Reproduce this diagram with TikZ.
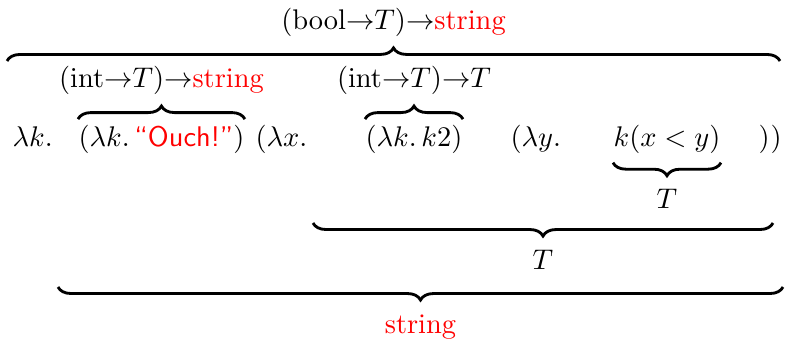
\documentclass[tikz,border=0pt]{standalone}
\usetikzlibrary{decorations.pathreplacing,calc}
\begin{document}
\begin{tikzpicture}[x=0.352pt, y=0.352pt,
    term/.style={anchor=base west, inner sep=0pt},
    brace/.style={decorate, decoration={brace, amplitude=4.6pt}, line width=1pt},
    mbrace/.style={decorate, decoration={brace, mirror, amplitude=4.6pt}, line width=1pt},
    uplab/.style={anchor=base, inner sep=0pt, yshift=11pt},
    lowlab/.style={anchor=base, inner sep=0pt, yshift=-16.3pt}]
    \useasboundingbox (0,0) rectangle (785,-339);

    % Der Term in einer Zeile
    \node[term] (lamk) at (12,-147) {$\lambda k.$};
    \node[term] (ouch) at (78,-147) {$(\lambda k.\,$\textcolor{red}{\textsf{``Ouch!''}}$)$};
    \node[term] (lamx) at (255,-147) {$(\lambda x.$};
    \node[term] (k2) at (365,-147) {$(\lambda k.\,k2)$};
    \node[term] (lamy) at (510,-147) {$(\lambda y.$};
    \node[term] (kxy) at (613,-147) {$k(x<y)$};
    \node[term] (closeY) at (758,-147) {$)$};
    \node[term] (closeX) at (770,-147) {$)$};

    % Enden der langen Klammern
    \coordinate (topL) at (7,-61);
    \coordinate (topR) at (780,-61);
    \coordinate (bodyL) at (313,-223);
    \coordinate (bodyR) at (773,-223);
    \coordinate (argL) at (58,-287);
    \coordinate (argR) at (783,-287);

    % Typen oberhalb
    \draw[brace] (topL) -- node[uplab] (tyAll) {$(\mathrm{bool}{\to}T){\to}$\textcolor{red}{string}} (topR);
    \draw[brace] ($(ouch.north west)+(0,6)$) -- node[uplab] (tyOuch) {$(\mathrm{int}{\to}T){\to}$\textcolor{red}{string}} ($(ouch.north east)+(0,6)$);
    \draw[brace] ($(k2.north west)+(0,6)$) -- node[uplab] (tyK2) {$(\mathrm{int}{\to}T){\to}T$} ($(k2.north east)+(0,6)$);

    % Typen unterhalb
    \draw[mbrace] ($(kxy.south west)+(0,-8)$) -- node[lowlab] (tyKxy) {$T$} ($(kxy.south east)+(0,-8)$);
    \draw[mbrace] (bodyL) -- node[lowlab] (tyBody) {$T$} (bodyR);
    \draw[mbrace] (argL) -- node[lowlab] (tyArg) {\textcolor{red}{string}} (argR);
\end{tikzpicture}
\end{document}
